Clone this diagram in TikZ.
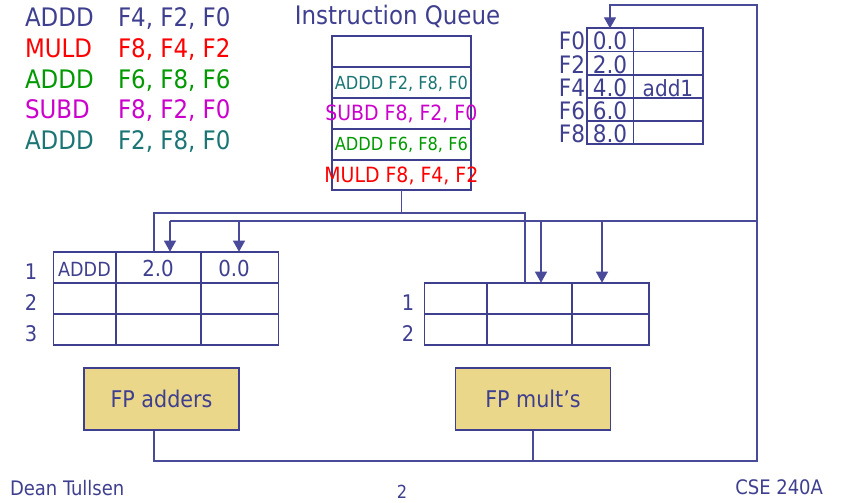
\documentclass[tikz,border=0pt]{standalone}
\usepackage{fontspec}
\setmainfont{DejaVu Sans Condensed}
\usetikzlibrary{arrows.meta}
\definecolor{ink}{HTML}{3F3F8F}
\definecolor{wirec}{HTML}{4A4A9A}
\definecolor{cred}{HTML}{FF0000}
\definecolor{cgreen}{HTML}{009900}
\definecolor{cmag}{HTML}{CC00CC}
\definecolor{cteal}{HTML}{1C7575}
\definecolor{fpfill}{HTML}{EBD78A}
\tikzset{
  txt/.style={inner sep=0pt, outer sep=0pt},
  big/.style={txt, font=\fontsize{25.5}{27}\selectfont},
  mid/.style={txt, font=\fontsize{21}{23}\selectfont},
  small/.style={txt, font=\fontsize{18}{20}\selectfont},
  reg/.style={txt, font=\fontsize{24}{26}\selectfont, text=ink},
  foot/.style={txt, font=\fontsize{20}{22}\selectfont, text=ink},
  cell/.style={draw=ink, line width=1.6pt, inner sep=0pt, outer sep=0pt},
  wire/.style={draw=wirec, line width=1.4pt},
  arr/.style={wire, -{Triangle[length=11pt,width=12pt]}},
  fpbox/.style={draw=ink, line width=1.2pt, fill=fpfill, minimum width=155pt, minimum height=62pt, inner sep=0pt, text=ink, font=\fontsize{23}{25}\selectfont},
}
\begin{document}
\begin{tikzpicture}[x=1pt,y=-1pt]
\useasboundingbox (0,0) rectangle (844,503);
% instruction list
\node[big, anchor=base west, text=ink] (o1) at (25,27) {ADDD};
\node[big, anchor=base west, text=ink] (a1) at (118,27) {F4, F2, F0};
\node[big, anchor=base west, text=cred] (o2) at (25,57.6) {MULD};
\node[big, anchor=base west, text=cred] (a2) at (118,57.6) {F8, F4, F2};
\node[big, anchor=base west, text=cgreen] (o3) at (25,88.2) {ADDD};
\node[big, anchor=base west, text=cgreen] (a3) at (118,88.2) {F6, F8, F6};
\node[big, anchor=base west, text=cmag] (o4) at (25,118.8) {SUBD};
\node[big, anchor=base west, text=cmag] (a4) at (118,118.8) {F8, F2, F0};
\node[big, anchor=base west, text=cteal] (o5) at (25,149.4) {ADDD};
\node[big, anchor=base west, text=cteal] (a5) at (118,149.4) {F2, F8, F0};
% instruction queue
\node[big, anchor=base, text=ink] (iqt) at (397.5,25) {Instruction Queue};
\node[cell, minimum width=139.3pt, minimum height=31pt] (q1) at (401.35,51.5) {};
\node[cell, minimum width=139.3pt, minimum height=31pt] (q2) at (401.35,82.5) {};
\node[cell, minimum width=139.3pt, minimum height=31pt] (q3) at (401.35,113.5) {};
\node[cell, minimum width=139.3pt, minimum height=31pt] (q4) at (401.35,144.5) {};
\node[cell, minimum width=139.3pt, minimum height=30pt] (q5) at (401.35,175) {};
\node[small, anchor=base, text=cteal] (qt2) at (401.35,89) {ADDD F2, F8, F0};
\node[mid, anchor=base, text=cmag] (qt3) at (401.35,121) {SUBD F8, F2, F0};
\node[small, anchor=base, text=cgreen] (qt4) at (401.35,150.5) {ADDD F6, F8, F6};
\node[mid, anchor=base, text=cred] (qt5) at (401.35,182.5) {MULD F8, F4, F2};
% register file
\foreach \n/\yc/\h/\v/\t in {0/40/23.4/0.0/, 2/63.35/23.3/2.0/, 4/86.65/23.3/4.0/add1, 6/109.65/22.7/6.0/, 8/132.5/23/8.0/}{
  \node[cell, minimum width=46.6pt, minimum height=\h pt] (rg\n a) at (610,\yc) {};
  \node[cell, minimum width=69.4pt, minimum height=\h pt] (rg\n b) at (668,\yc) {};
  \node[reg, anchor=base east] (rl\n) at (585,\yc+10) {F\n};
  \node[reg, anchor=base] (rv\n) at (610,\yc+10) {\v};
  \node[txt, font=\fontsize{22.3}{24}\selectfont, text=ink, anchor=base] (rt\n) at (668,\yc+10) {\t};
}
% adders reservation stations
\foreach \r/\yc/\h in {1/267.35/31.3, 2/298.5/31, 3/329.5/31}{
  \node[cell, minimum width=62.4pt, minimum height=\h pt] (ad\r a) at (84.5,\yc) {};
  \node[cell, minimum width=85.3pt, minimum height=\h pt] (ad\r b) at (158.35,\yc) {};
  \node[cell, minimum width=77.3pt, minimum height=\h pt] (ad\r c) at (239.65,\yc) {};
  \node[txt, font=\fontsize{21.5}{23}\selectfont, text=ink, anchor=base] (adl\r) at (31,\yc+12) {\r};
}
\node[txt, font=\fontsize{19.5}{21}\selectfont, text=ink, anchor=base] (adop) at (84.5,276.5) {ADDD};
\node[txt, font=\fontsize{22}{24}\selectfont, text=ink, anchor=base] (adv1) at (158,276.7) {2.0};
\node[txt, font=\fontsize{22}{24}\selectfont, text=ink, anchor=base] (adv2) at (234,276.7) {0.0};
% mult reservation stations
\foreach \r/\yc/\h in {1/298.35/31.3, 2/329.35/30.7}{
  \node[cell, minimum width=62.4pt, minimum height=\h pt] (mu\r a) at (455.5,\yc) {};
  \node[cell, minimum width=85pt, minimum height=\h pt] (mu\r b) at (529.2,\yc) {};
  \node[cell, minimum width=77.3pt, minimum height=\h pt] (mu\r c) at (610.35,\yc) {};
  \node[txt, font=\fontsize{21.5}{23}\selectfont, text=ink, anchor=base] (mul\r) at (408,\yc+12) {\r};
}
% functional units
\node[fpbox] (fpa) at (161.5,399) {FP adders};
\node[fpbox] (fpm) at (533,399) {FP mult’s};
% wiring
\coordinate (busA) at (154,213);
\coordinate (busB) at (525,213);
\coordinate (cdbL) at (170,221);
\coordinate (cdbR) at (757,221);
\coordinate (cdbA2) at (239,221);
\coordinate (cdbM1) at (541,221);
\coordinate (cdbM2) at (602,221);
\coordinate (loopB) at (757,461);
\coordinate (loopT) at (757,5);
\draw[wire] (q5.south) -- (q5.south |- busA);
\draw[wire] (busA |- ad1b.north) -- (busA) -- (busB) -- (busB |- mu1b.north);
\draw[wire] (cdbL) -- (cdbR);
\draw[arr] (cdbL) -- (cdbL |- ad1b.north);
\draw[arr] (cdbA2) -- (cdbA2 |- ad1c.north);
\draw[arr] (cdbM1) -- (cdbM1 |- mu1b.north);
\draw[arr] (cdbM2) -- (cdbM2 |- mu1c.north);
\draw[arr] (fpa.south -| busA) |- (loopB) -- (loopT) -| (rg0a.north);
\draw[wire] (fpm.south) -- (fpm.south |- loopB);
% footer
\node[foot, anchor=base west] (ft1) at (10,495) {Dean Tullsen};
\node[txt, font=\fontsize{18}{20}\selectfont, text=ink, anchor=base] (ft2) at (402,498) {2};
\node[foot, anchor=base east] (ft3) at (823,494) {CSE 240A};
\end{tikzpicture}
\end{document}
